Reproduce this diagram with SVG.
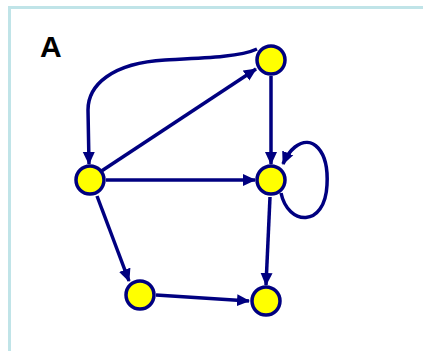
<svg xmlns="http://www.w3.org/2000/svg" width="423" height="351" viewBox="0 0 423 351">
<style>
.node{fill:#ffff00;stroke:#000080;stroke-width:3.5}
.edge{fill:none;stroke:#000080;stroke-width:3.5;marker-end:url(#arr)}
</style>
<defs>
<marker id="arr" markerUnits="userSpaceOnUse" markerWidth="13" markerHeight="13" viewBox="0 0 13 13" refX="12" refY="6.5" orient="auto">
<path d="M0,0.5 L13,6.5 L0,12.5 Z" fill="#000080"/>
</marker>
</defs>
<rect width="423" height="351" fill="#ffffff"/>
<path d="M9.5,351 V7.5 H423" fill="none" stroke="#c0e4e8" stroke-width="3"/>
<text x="40" y="57" font-family="Liberation Sans, Arial, sans-serif" font-size="30" font-weight="bold" fill="#000000">A</text>
<g id="connectors">
<path class="edge" d="M100,172 L256,69"/>
<path class="edge" d="M257,49 C240,57 205,58 165,60 C112,63 88,85 88,110 L89,164"/>
<path class="edge" d="M271,76 L271,164"/>
<path class="edge" d="M106,180 L255,180"/>
<path class="edge" d="M281,193 C288,226 325,228 327,185 C329,150 312,134 295,147 C290,151 286,157 283,164"/>
<path class="edge" d="M270,197 L266,285"/>
<path class="edge" d="M97,196 L129,281"/>
<path class="edge" d="M156,295 L249,301"/>
</g>
<g id="n1"><circle class="node" cx="271" cy="60" r="14"/></g>
<g id="n2"><circle class="node" cx="90" cy="180" r="14"/></g>
<g id="n3"><circle class="node" cx="271" cy="180" r="14"/></g>
<g id="n4"><circle class="node" cx="140" cy="295" r="14"/></g>
<g id="n5"><circle class="node" cx="266" cy="301" r="14"/></g>
</svg>
